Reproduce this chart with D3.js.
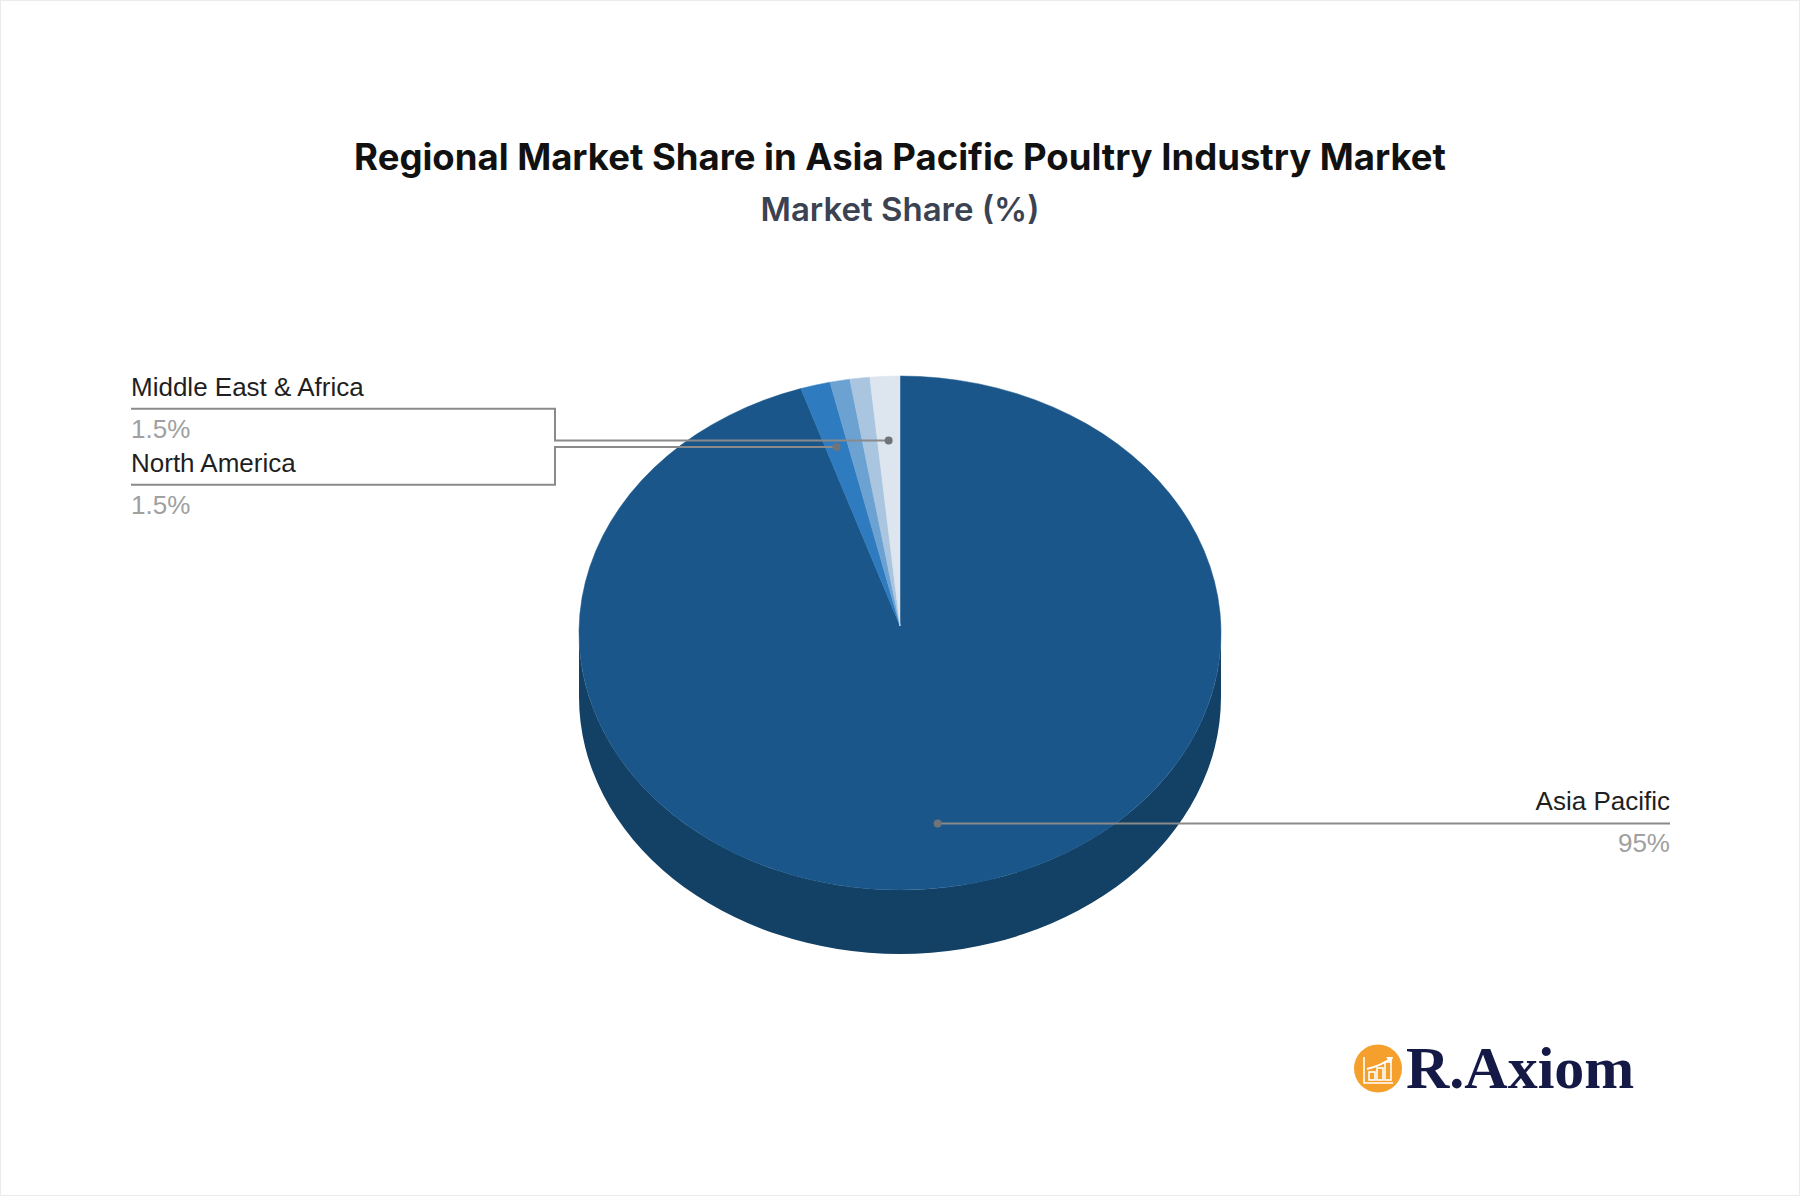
<!DOCTYPE html>
<html>
<head>
<meta charset="utf-8">
<script src="https://cdn.jsdelivr.net/npm/d3@7"></script>
<style>
  html, body { margin: 0; padding: 0; background: #ffffff; }
  svg { display: block; }
</style>
</head>
<body>
<svg id="chart" width="1800" height="1196"></svg>
<script>
// ---- data ----
const regions = ["Asia Pacific", "North America", "Europe", "South America", "Middle East & Africa"];
const shares = [95, 1.5, 1, 1, 1.5];
const sliceColors = ["#1a5689", "#2f7bbf", "#6ca2d2", "#a9c5df", "#dde5ef"];
const labeledRegions = ["Asia Pacific", "North America", "Middle East & Africa"];
const titleText = "Regional Market Share in Asia Pacific Poultry Industry Market";
const subtitleText = "Market Share (%)";

// ---- layout ----
const W = 1800, H = 1196;
const cx = 900, cy = 633, rx = 321, ry = 257, depth = 64, tipY = 626;
const svg = d3.select("#chart");

svg.append("rect").attr("x", 0.5).attr("y", 0.5).attr("width", W - 1).attr("height", H - 1)
  .attr("fill", "#fff").attr("stroke", "#ebebeb");

svg.append("text").attr("x", 900).attr("y", 170).attr("text-anchor", "middle")
  .attr("font-family", "Inter, 'Noto Sans', sans-serif").attr("font-weight", 700)
  .attr("font-size", 36.5).attr("fill", "#111").text(titleText);

svg.append("text").attr("x", 900).attr("y", 221).attr("text-anchor", "middle")
  .attr("font-family", "Inter, 'Noto Sans', sans-serif").attr("font-weight", 600)
  .attr("font-size", 33).attr("fill", "#3b4252").text(subtitleText);

const data = regions.map((r, i) => ({ name: r, value: shares[i], color: sliceColors[i] }));
const pie = d3.pie().sort(null).value(d => d.value);
const arcs = pie(data);

const pt = (a, k = 1, dy = 0) => [cx + rx * k * Math.sin(a), cy - ry * k * Math.cos(a) + dy];

// side walls (front half only)
const gSide = svg.append("g");
arcs.forEach(d => {
  const s = Math.max(d.startAngle, Math.PI / 2);
  const e = Math.min(d.endAngle, 3 * Math.PI / 2);
  if (s >= e) return;
  const p0 = pt(s), p1 = pt(e), p2 = pt(e, 1, depth), p3 = pt(s, 1, depth);
  const large = (e - s) > Math.PI ? 1 : 0;
  const path = `M${p0[0]},${p0[1]} A${rx},${ry} 0 ${large} 1 ${p1[0]},${p1[1]} L${p2[0]},${p2[1]} A${rx},${ry} 0 ${large} 0 ${p3[0]},${p3[1]} Z`;
  gSide.append("path").attr("d", path)
    .attr("fill", d3.color(d.data.color).darker(0.85).formatHex());
});

// top faces
const gTop = svg.append("g");
arcs.forEach(d => {
  const p0 = pt(d.startAngle), p1 = pt(d.endAngle);
  const large = (d.endAngle - d.startAngle) > Math.PI ? 1 : 0;
  const path = `M${cx},${tipY} L${p0[0]},${p0[1]} A${rx},${ry} 0 ${large} 1 ${p1[0]},${p1[1]} Z`;
  gTop.append("path").attr("d", path).attr("fill", d.data.color)
    .attr("stroke", d.data.color).attr("stroke-width", 0.5);
});

// labels
const labelArcs = arcs.filter(d => labeledRegions.includes(d.data.name)).map(d => {
  const mid = (d.startAngle + d.endAngle) / 2;
  const dot = pt(mid, 0.75);
  return { d, mid, dot, side: mid > Math.PI ? "left" : "right", y: dot[1] };
});

const gap = 76;
["left", "right"].forEach(side => {
  const group = labelArcs.filter(l => l.side === side).sort((a, b) => a.y - b.y);
  if (!group.length) return;
  const idealMean = d3.mean(group, l => l.y);
  for (let i = 1; i < group.length; i++) {
    if (group[i].y - group[i - 1].y < gap) group[i].y = group[i - 1].y + gap;
  }
  const shift = idealMean - d3.mean(group, l => l.y) + (group.length > 1 ? 3 : 0);
  group.forEach(l => l.y += shift);
});

const gLab = svg.append("g");
labelArcs.forEach(l => {
  const left = l.side === "left";
  const elbowX = left ? cx - 345 : cx + 345;
  const endX = left ? cx - 769 : cx + 770;
  const pts = [l.dot, [elbowX, l.dot[1]], [elbowX, l.y], [endX, l.y]];
  gLab.append("path").attr("d", d3.line()(pts)).attr("fill", "none")
    .attr("stroke", "#8a8a8a").attr("stroke-width", 2);
  gLab.append("circle").attr("cx", l.dot[0]).attr("cy", l.dot[1]).attr("r", 4)
    .attr("fill", "#6f7478");
  gLab.append("text").attr("x", endX).attr("y", l.y - 13)
    .attr("text-anchor", left ? "start" : "end")
    .attr("font-family", "'Liberation Sans', Arial, sans-serif").attr("font-size", 26)
    .attr("fill", "#1f1f1f").text(l.d.data.name);
  gLab.append("text").attr("x", endX).attr("y", l.y + 29)
    .attr("text-anchor", left ? "start" : "end")
    .attr("font-family", "'Liberation Sans', Arial, sans-serif").attr("font-size", 26)
    .attr("fill", "#a0a0a0").text(l.d.data.value + "%");
});

// logo
const gLogo = svg.append("g");
gLogo.append("circle").attr("cx", 1378).attr("cy", 1068.5).attr("r", 24).attr("fill", "#f5a02c");
gLogo.append("path").attr("d", "M1364,1057 L1364,1083 L1393,1083").attr("fill", "none")
  .attr("stroke", "#fff").attr("stroke-width", 1.6);
[[1369, 1072], [1377, 1068], [1385, 1062]].forEach(([x, y]) => {
  gLogo.append("rect").attr("x", x).attr("y", y).attr("width", 6).attr("height", 1080 - y)
    .attr("fill", "none").attr("stroke", "#fff").attr("stroke-width", 1.6);
});
gLogo.append("path").attr("d", "M1367,1069 Q1380,1066 1390,1059").attr("fill", "none")
  .attr("stroke", "#fff").attr("stroke-width", 2);
gLogo.append("path").attr("d", "M1386,1057 L1393,1057 L1391,1063 Z").attr("fill", "#fff");
gLogo.append("text").attr("x", 1406).attr("y", 1088)
  .attr("font-family", "'Liberation Serif', 'DejaVu Serif', serif").attr("font-weight", 700)
  .attr("font-size", 60).attr("fill", "#141a45").text("R.Axiom");
</script>
</body>
</html>
